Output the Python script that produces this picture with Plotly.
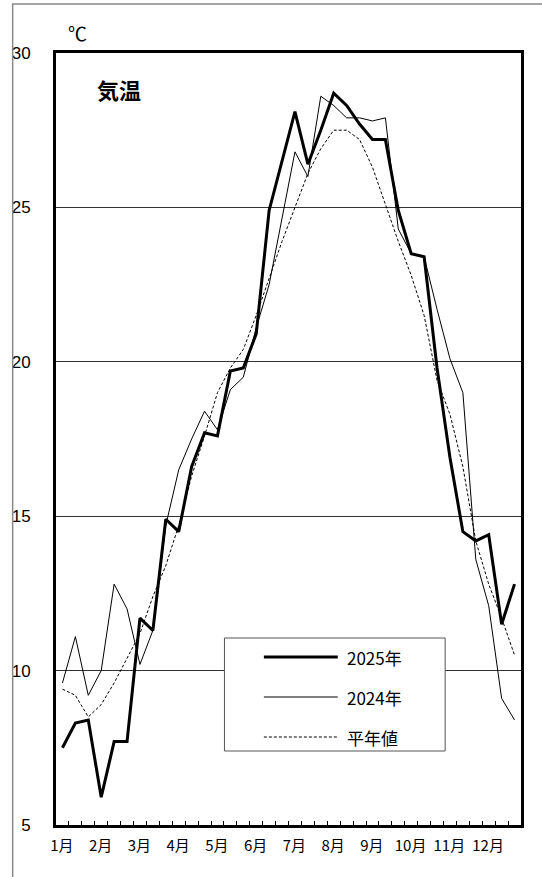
import plotly.graph_objects as go

# --- data: 36 旬 (10-day periods) ---
periods = list(range(36))
temp_2025 = [7.5, 8.3, 8.4, 5.9, 7.7, 7.7, 11.7, 11.3, 14.9, 14.5, 16.6, 17.7,
             17.6, 19.7, 19.8, 20.9, 24.9, 26.5, 28.1, 26.4, 27.5, 28.7, 28.3, 27.7,
             27.2, 27.2, 24.9, 23.5, 23.4, 19.8, 16.9, 14.5, 14.2, 14.4, 11.5, 12.8]
temp_2024 = [9.6, 11.1, 9.2, 10.0, 12.8, 12.0, 10.2, 11.3, 14.7, 16.5, 17.5, 18.4,
             17.8, 19.1, 19.5, 21.1, 22.5, 24.7, 26.8, 26.0, 28.6, 28.3, 27.9, 27.9,
             27.8, 27.9, 24.3, 23.5, 23.4, 21.7, 20.1, 19.0, 13.6, 12.1, 9.1, 8.4]
temp_normal = [9.4, 9.2, 8.5, 8.9, 9.6, 10.4, 11.2, 12.4, 13.4, 14.7, 16.3, 17.6,
               19.0, 19.8, 20.4, 21.5, 22.7, 23.9, 25.0, 26.1, 26.9, 27.5, 27.5, 27.2,
               26.3, 25.1, 23.9, 22.8, 21.5, 19.4, 18.3, 16.6, 14.2, 12.8, 11.7, 10.5]
month_labels = ["1月", "2月", "3月", "4月", "5月", "6月", "7月", "8月", "9月", "10月", "11月", "12月"]
y_ticks = [5, 10, 15, 20, 25, 30]
series_names = ["2025年", "2024年", "平年値"]

W, H = 542, 877
L, R, T, B = 49, 521, 53, 825  # plot area in px


def px(x):
    return (x - L) / (R - L)


def py(y):
    return (B - y) / (B - T)


xs = [p + 0.5 for p in periods]
FONT = "Liberation Sans, Arial, Noto Sans CJK JP, sans-serif"
CJK = "Noto Sans CJK JP, sans-serif"

fig = go.Figure()
fig.add_trace(go.Scatter(x=xs, y=temp_normal, mode="lines", name=series_names[2],
                         line=dict(color="black", width=1, dash="3px,2px")))
fig.add_trace(go.Scatter(x=xs, y=temp_2024, mode="lines", name=series_names[1],
                         line=dict(color="black", width=1)))
fig.add_trace(go.Scatter(x=xs, y=temp_2025, mode="lines", name=series_names[0],
                         line=dict(color="black", width=3)))

fig.update_layout(
    width=W, height=H,
    margin=dict(l=L, r=W - R, t=T, b=H - B, pad=0),
    paper_bgcolor="white", plot_bgcolor="white",
    showlegend=False,
    font=dict(family=FONT, color="black"),
)
fig.update_xaxes(
    range=[0, 36],
    tickvals=[3 * m + 0.45 for m in range(12)],
    ticktext=month_labels,
    ticks="", showgrid=False, zeroline=False,
    tickfont=dict(family=CJK, size=15),
    showline=True, mirror=True, linewidth=3, linecolor="black",
    minor=dict(tickvals=list(range(1, 36)), ticks="inside", ticklen=4,
               tickcolor="black", tickwidth=1, showgrid=False),
    ticklabelstandoff=5,
)
fig.update_yaxes(
    range=[5, 30], tickvals=y_ticks, ticks="",
    showgrid=True, gridcolor="#333333", gridwidth=1, zeroline=False,
    tickfont=dict(family=FONT, size=17),
    showline=True, mirror=True, linewidth=3, linecolor="black",
    ticklabelstandoff=19,
)

shapes = []
# outer frame
shapes.append(dict(type="rect", xref="paper", yref="paper",
                   x0=px(5), x1=px(548), y0=py(890), y1=py(4),
                   line=dict(color="#888888", width=1.5), fillcolor="rgba(0,0,0,0)", layer="above"))
# legend box
shapes.append(dict(type="rect", xref="paper", yref="paper",
                   x0=px(220), x1=px(444), y0=py(751), y1=py(638),
                   line=dict(color="#555555", width=1), fillcolor="white", layer="above"))
rows = [657, 697, 737]
styles = [dict(width=3, dash="solid"), dict(width=1, dash="solid"), dict(width=1, dash="3px,2px")]
annotations = []
for name, ry, st in zip(series_names, rows, styles):
    shapes.append(dict(type="line", xref="paper", yref="paper",
                       x0=px(260), x1=px(335), y0=py(ry), y1=py(ry),
                       line=dict(color="black", **st), layer="above"))
    annotations.append(dict(xref="paper", yref="paper", x=px(342), y=py(ry),
                            text=name, showarrow=False, xanchor="left", yanchor="middle",
                            font=dict(family=CJK, size=17, color="black")))

annotations.append(dict(xref="paper", yref="paper", x=px(71), y=py(33), text="℃",
                        showarrow=False, xanchor="center", yanchor="middle",
                        font=dict(family=CJK, size=19, color="black")))
annotations.append(dict(xref="paper", yref="paper", x=px(113), y=py(89), text="<b>気温</b>",
                        showarrow=False, xanchor="center", yanchor="middle",
                        font=dict(family=CJK, size=22, color="black")))

fig.update_layout(shapes=shapes, annotations=annotations)
fig.write_html("out.html",
               config={"displayModeBar": False},
               post_script="document.body.style.margin='0';document.body.style.padding='0';")
